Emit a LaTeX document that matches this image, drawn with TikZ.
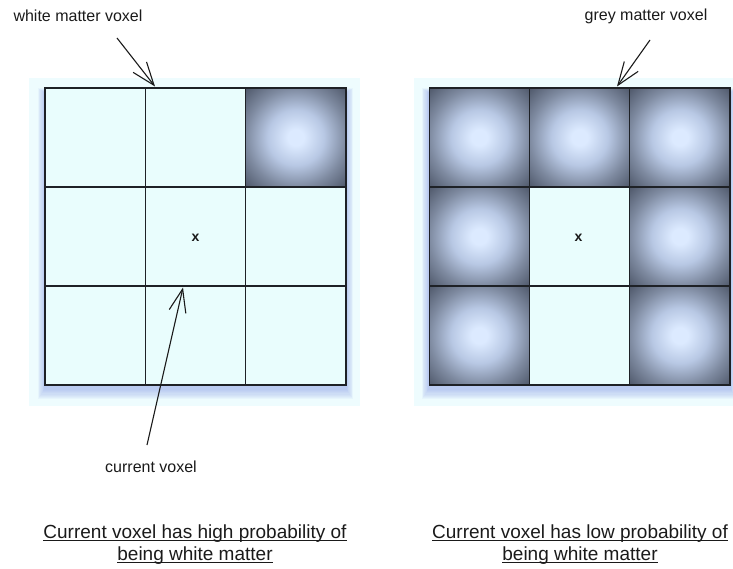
\documentclass[tikz,border=0pt]{standalone}
\usepackage{fontspec}
\setmainfont{Liberation Sans}
\usetikzlibrary{arrows.meta}
\definecolor{cellfill}{HTML}{E9FDFD}
\definecolor{bgfill}{HTML}{EEFCFE}
\definecolor{gridline}{HTML}{1E2126}
\definecolor{shadowblue}{HTML}{8A9EE8}
\definecolor{inkcol}{HTML}{1A1A1A}
\definecolor{gvA}{HTML}{DCEAFF}
\definecolor{gvB}{HTML}{B8C8E4}
\definecolor{gvC}{HTML}{7E8AA0}
\definecolor{gvD}{HTML}{4C5567}
\pgfdeclareradialshading{greyvox}{\pgfpoint{0bp}{0bp}}{color(0bp)=(gvA);color(4bp)=(gvA);color(14bp)=(gvB);color(25bp)=(gvC);color(36bp)=(gvD);color(50bp)=(gvD)}
\newcommand\myul[1]{\setbox0\hbox{#1}\rlap{\rule[-3pt]{\wd0}{1pt}}\box0}
\tikzset{
  wcell/.style={draw=gridline, line width=1.2pt, fill=cellfill, minimum width=100.3pt, minimum height=99pt, inner sep=0pt, outer sep=0pt},
  gcell/.style={draw=gridline, line width=1.2pt, shading=greyvox, minimum width=100.3pt, minimum height=99pt, inner sep=0pt, outer sep=0pt},
  lbl/.style={font=\fontsize{16}{19}\selectfont, text=inkcol, inner sep=0pt},
  captext/.style={font=\fontsize{19}{23}\selectfont, text=inkcol, inner sep=0pt, anchor=base},
  xmark/.style={font=\fontsize{14}{16}\selectfont\bfseries, text=inkcol, inner sep=0pt},
  pointer/.style={draw=inkcol, line width=1.1pt, -{Straight Barb[length=23pt,width=17pt,line width=1.1pt]}},
}
\begin{document}
\begin{tikzpicture}[x=1pt,y=-1pt]
\useasboundingbox (0,0) rectangle (733,569);
% pale backgrounds
\fill[bgfill] (29,78) rectangle (360,406);
\fill[bgfill] (414,78) rectangle (733,406);
% soft shadows
\foreach \r in {1,...,9}{
  \fill[shadowblue, opacity=0.07] (45-\r*0.8,93-\r*0.5) rectangle (346+\r*0.8,389+\r*1.1);
  \fill[shadowblue, opacity=0.07] (429-\r*0.8,93-\r*0.5) rectangle (731+\r*0.4,389+\r*1.1);
}
% left grid
\node[wcell] (L11) at (95.2,137.5) {};
\node[wcell] (L12) at (195.5,137.5) {};
\node[gcell] (L13) at (295.8,137.5) {};
\node[wcell] (L21) at (95.2,236.5) {};
\node[wcell] (L22) at (195.5,236.5) {};
\node[wcell] (L23) at (295.8,236.5) {};
\node[wcell] (L31) at (95.2,335.5) {};
\node[wcell] (L32) at (195.5,335.5) {};
\node[wcell] (L33) at (295.8,335.5) {};
% right grid
\node[gcell] (R11) at (479.3,137.5) {};
\node[gcell] (R12) at (579.6,137.5) {};
\node[gcell] (R13) at (679.9,137.5) {};
\node[gcell] (R21) at (479.3,236.5) {};
\node[wcell] (R22) at (579.6,236.5) {};
\node[gcell] (R23) at (679.9,236.5) {};
\node[gcell] (R31) at (479.3,335.5) {};
\node[wcell] (R32) at (579.6,335.5) {};
\node[gcell] (R33) at (679.9,335.5) {};
% centre marks
\node[xmark] (xl) at (195.5,237.5) {x};
\node[xmark] (xr) at (578.5,237.5) {x};
% labels
\node[lbl] (wm) at (78,16) {white matter voxel};
\node[lbl] (gm) at (646,16) {grey matter voxel};
\node[lbl] (cv) at (151,467) {current voxel};
% pointers
\coordinate (wmtail) at (117,38);
\coordinate (wmtip) at (155,86.5);
\coordinate (gmtail) at (650,40);
\coordinate (gmtip) at (617,86.5);
\coordinate (cvtail) at (147,445);
\coordinate (cvtip) at (183,287.5);
\draw[pointer] (wmtail) -- (wmtip);
\draw[pointer] (gmtail) -- (gmtip);
\draw[pointer] (cvtail) -- (cvtip);
% captions
\node[captext] (capla) at (195,538) {\myul{Current voxel has high probability of}};
\node[captext] (caplb) at (195,560) {\myul{being white matter}};
\node[captext] (capra) at (580,538) {\myul{Current voxel has low probability of}};
\node[captext] (caprb) at (580,560) {\myul{being white matter}};
\end{tikzpicture}
\end{document}
